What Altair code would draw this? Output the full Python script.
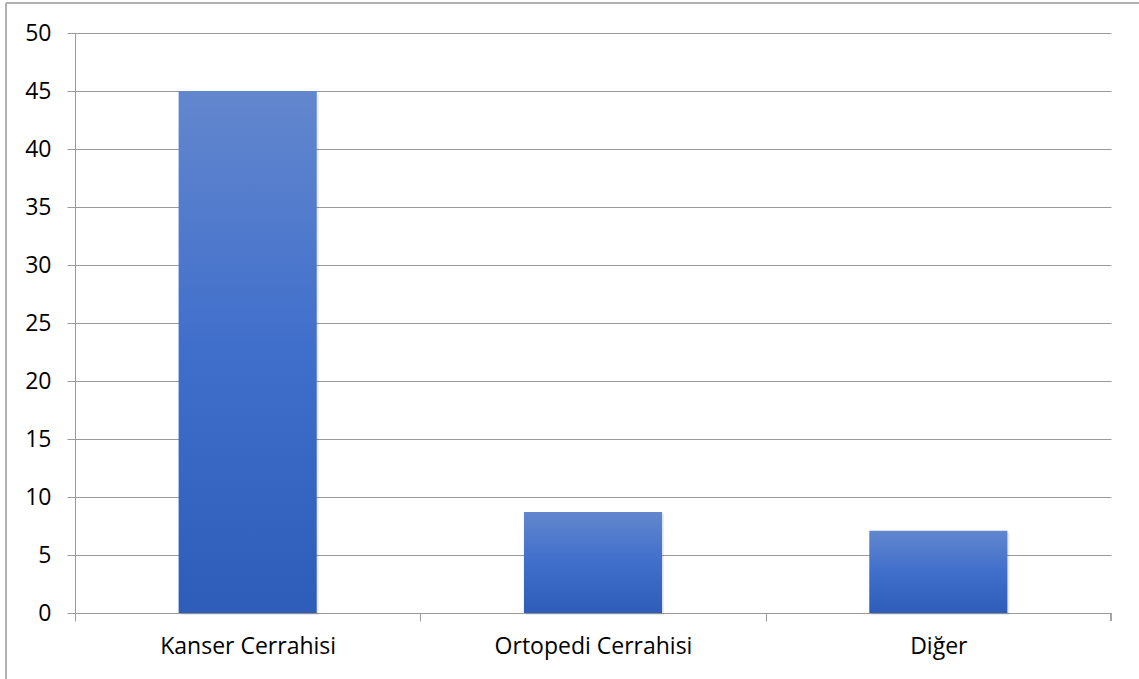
import altair as alt
import pandas as pd

# Category labels and bar values
categories = ["Kanser Cerrahisi", "Ortopedi Cerrahisi", "Diğer"]
values = [45, 8.7, 7.1]

# Y axis ticks
y_ticks = [0, 5, 10, 15, 20, 25, 30, 35, 40, 45, 50]

df = pd.DataFrame({"kategori": categories, "deger": values})

W, H = 1036, 580
STEP = W / len(categories)
FONT = "Open Sans"
FONT_SIZE = 23
GRID = "#9a9a9a"

x_enc = alt.X(
    "kategori:N",
    sort=categories,
    scale=alt.Scale(paddingInner=0.6, paddingOuter=0.3),
    axis=alt.Axis(
        title=None,
        labelAngle=0,
        bandPosition=0.5,
        tickOffset=-STEP / 2,
        labelOffset=STEP / 2,
        ticks=True,
        tickSize=8,
        tickColor=GRID,
        domainColor=GRID,
        labelFont=FONT,
        labelFontSize=FONT_SIZE,
        labelColor="#000000",
        labelPadding=14,
        labelLimit=400,
        grid=False,
    ),
)

y_enc = alt.Y(
    "deger:Q",
    scale=alt.Scale(domain=[0, 50], nice=False),
    axis=alt.Axis(
        title=None,
        values=y_ticks,
        tickSize=8,
        tickColor=GRID,
        domainColor=GRID,
        gridColor=GRID,
        gridWidth=1,
        labelFont=FONT,
        labelFontSize=FONT_SIZE,
        labelColor="#000000",
        labelPadding=16,
    ),
)

bar_fill = alt.Gradient(
    gradient="linear",
    x1=0, y1=0, x2=0, y2=1,
    stops=[
        alt.GradientStop(offset=0, color="#6387ce"),
        alt.GradientStop(offset=0.5, color="#3f6ecb"),
        alt.GradientStop(offset=1, color="#2d5db9"),
    ],
)

# soft drop shadow behind each bar
shadow = alt.Chart(df).mark_bar(color="#000000", opacity=0.08, xOffset=2, yOffset=2).encode(
    x=x_enc, y=y_enc
)

bars = alt.Chart(df).mark_bar(color=bar_fill).encode(x=x_enc, y=y_enc)

# extra boundary tick at the right end of the category axis
end_tick = alt.Chart(df).mark_rule(color=GRID).encode(
    x=alt.value(W), y=alt.value(H), y2=alt.value(H + 8)
)

# outer chart frame (top and left edges)
frame_top = alt.Chart(df).mark_rule(color="#a6a6a6", clip=False).encode(
    x=alt.value(-69), x2=alt.value(W + 40), y=alt.value(-30)
)
frame_left = alt.Chart(df).mark_rule(color="#a6a6a6", clip=False).encode(
    x=alt.value(-69), y=alt.value(-30), y2=alt.value(H + 80)
)

chart = (
    alt.layer(shadow, bars, end_tick, frame_top, frame_left)
    .properties(
        width=W,
        height=H,
        autosize=alt.AutoSizeParams(type="none"),
        padding={"left": 75, "top": 33, "right": 28, "bottom": 66},
        background="#ffffff",
    )
    .configure_view(stroke=None)
)

chart.save("out.html", embed_options={"renderer": "svg", "actions": False})
